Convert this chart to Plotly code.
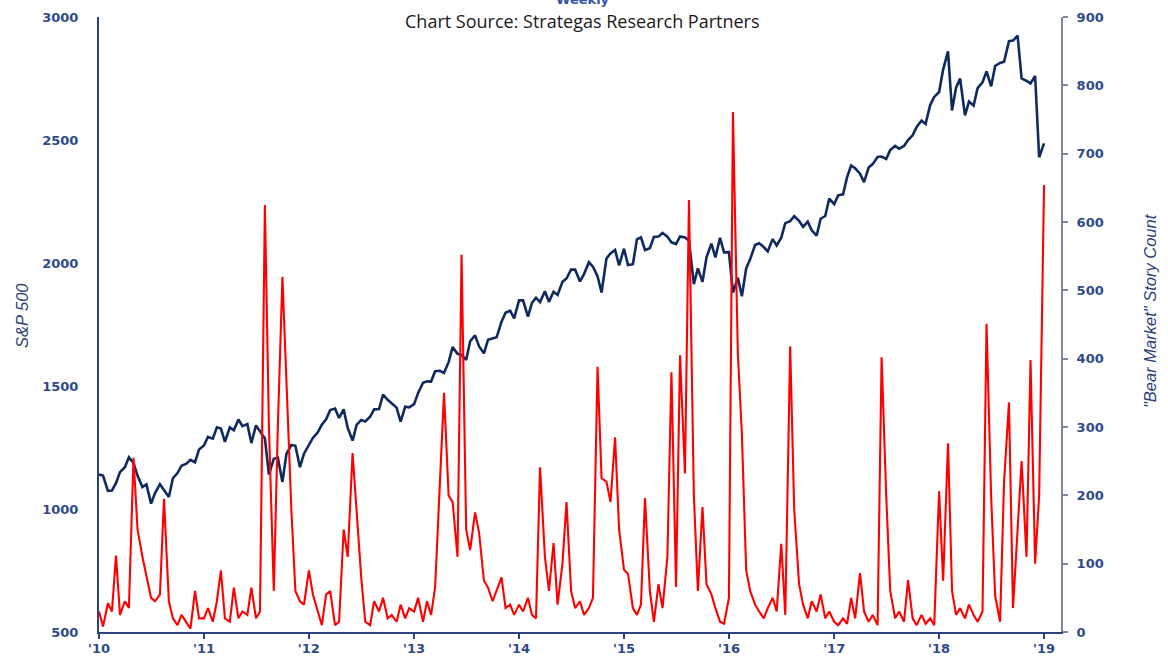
import pandas as pd
import plotly.graph_objects as go

# Semi-monthly observation dates (1st and 15th), Jan 2010 - Jan 2019
dates = pd.date_range("2010-01-01", "2019-01-01", freq="SMS")

sp500 = [
    # 2010
    1140, 1136, 1074, 1075, 1105, 1150, 1170, 1210, 1187, 1136, 1089, 1100,
    1022, 1065, 1101, 1079, 1049, 1125, 1146, 1176, 1184, 1200, 1190, 1242,
    # 2011
    1258, 1293, 1286, 1332, 1327, 1273, 1332, 1320, 1364, 1337, 1345, 1268,
    1340, 1316, 1287, 1140, 1204, 1209, 1110, 1224, 1260, 1257, 1170, 1225,
    # 2012
    1258, 1289, 1312, 1343, 1365, 1402, 1408, 1370, 1405, 1330, 1278, 1342,
    1362, 1356, 1375, 1405, 1406, 1465, 1444, 1428, 1412, 1355, 1416, 1413,
    # 2013
    1426, 1472, 1513, 1519, 1518, 1560, 1562, 1553, 1597, 1658, 1631, 1626,
    1606, 1682, 1706, 1661, 1633, 1688, 1695, 1698, 1761, 1798, 1806, 1775,
    # 2014
    1848, 1848, 1782, 1838, 1859, 1841, 1885, 1842, 1883, 1870, 1924, 1937,
    1973, 1973, 1925, 1955, 2003, 1985, 1946, 1880, 2018, 2039, 2053, 1990,
    # 2015
    2058, 1992, 1995, 2096, 2104, 2053, 2060, 2106, 2108, 2122, 2107, 2084,
    2077, 2108, 2104, 2091, 1914, 1978, 1923, 2023, 2079, 2023, 2102, 2043,
    # 2016
    2044, 1880, 1940, 1865, 1978, 2016, 2073, 2080, 2065, 2047, 2097, 2071,
    2103, 2162, 2170, 2190, 2171, 2147, 2168, 2133, 2111, 2180, 2191, 2262,
    # 2017
    2239, 2275, 2279, 2349, 2396, 2385, 2363, 2329, 2388, 2402, 2431, 2433,
    2423, 2459, 2476, 2465, 2476, 2500, 2519, 2553, 2579, 2565, 2642, 2675,
    # 2018
    2695, 2786, 2860, 2620, 2713, 2750, 2600, 2656, 2640, 2711, 2734, 2779,
    2718, 2801, 2813, 2818, 2902, 2904, 2924, 2750, 2740, 2730, 2760, 2430,
    # 2019
    2486,
]

bear_stories = [
    # 2010
    30, 8, 42, 30, 112, 25, 45, 35, 255, 150, 110, 80,
    50, 45, 55, 195, 45, 20, 10, 25, 15, 5, 60, 20,
    # 2011
    20, 35, 15, 45, 90, 20, 15, 65, 20, 30, 25, 65,
    20, 30, 625, 300, 60, 300, 520, 360, 180, 60, 45, 40,
    # 2012
    90, 55, 30, 10, 55, 60, 10, 15, 150, 110, 262, 180,
    80, 15, 10, 45, 30, 50, 20, 25, 15, 40, 20, 35,
    # 2013
    30, 50, 15, 45, 25, 65, 220, 350, 200, 190, 110, 552,
    150, 120, 175, 145, 75, 65, 45, 60, 80, 35, 40, 25,
    # 2014
    40, 30, 50, 25, 20, 241, 110, 60, 130, 40, 100, 190,
    60, 35, 45, 25, 35, 50, 388, 225, 220, 190, 285, 150,
    # 2015
    91, 85, 35, 25, 40, 196, 60, 15, 70, 35, 110, 380,
    66, 405, 232, 632, 200, 60, 183, 70, 55, 35, 15, 12,
    # 2016
    50, 761, 408, 290, 90, 60, 40, 30, 20, 35, 50, 30,
    129, 25, 418, 180, 70, 40, 20, 45, 30, 55, 20, 30,
    # 2017
    15, 10, 20, 12, 50, 20, 86, 30, 15, 25, 10, 402,
    200, 60, 20, 30, 15, 76, 20, 10, 25, 12, 20, 10,
    # 2018
    206, 75, 276, 60, 25, 35, 20, 40, 25, 15, 30, 451,
    198, 53, 15, 220, 336, 35, 150, 250, 110, 398, 100, 200,
    # 2019
    654,
]

year_ticks = ["2010-01-01", "2011-01-01", "2012-01-01", "2013-01-01", "2014-01-01",
              "2015-01-01", "2016-01-01", "2017-01-01", "2018-01-01", "2019-01-01"]
year_labels = ["'10", "'11", "'12", "'13", "'14", "'15", "'16", "'17", "'18", "'19"]

left_ticks = [500, 1000, 1500, 2000, 2500, 3000]
right_ticks = [0, 100, 200, 300, 400, 500, 600, 700, 800, 900]

NAVY = "#0f2a5e"
AXIS = "#2b437a"
LABEL = "#2e4a8a"
TICKFONT = dict(family="DejaVu Sans", size=13, color=LABEL, weight="bold")
TITLEFONT = dict(family="Liberation Sans", size=16.5, color="#2b3f75")

fig = go.Figure()
fig.add_trace(go.Scatter(x=dates, y=sp500, mode="lines", name="S&P 500",
                         line=dict(color=NAVY, width=2.6), yaxis="y"))
fig.add_trace(go.Scatter(x=dates, y=bear_stories, mode="lines", name="Bear Market Story Count",
                         line=dict(color="#ff0000", width=2.1), yaxis="y2"))

fig.update_layout(
    width=1168, height=656,
    margin=dict(l=99, r=107, t=17, b=24, autoexpand=False),
    paper_bgcolor="white", plot_bgcolor="white",
    showlegend=False,
    xaxis=dict(type="date", range=["2010-01-01", "2019-03-01"], automargin=False,
               tickvals=year_ticks, ticktext=year_labels,
               showgrid=False, zeroline=False,
               showline=True, linecolor=AXIS, linewidth=2,
               ticks="outside", ticklen=5, tickwidth=1.5, tickcolor=AXIS,
               tickfont=TICKFONT, ticklabelstandoff=-2),
    yaxis=dict(range=[500, 3000], tickvals=left_ticks, automargin=False,
               showgrid=False, zeroline=False,
               showline=True, linecolor=AXIS, linewidth=2,
               ticks="", tickfont=TICKFONT, ticklabelstandoff=16),
    yaxis2=dict(range=[0, 900], tickvals=right_ticks, overlaying="y", side="right",
                automargin=False, showgrid=False, zeroline=False,
                showline=True, linecolor="#7d879f", linewidth=2,
                ticks="outside", ticklen=5, tickwidth=1.5, tickcolor="#7d879f",
                tickfont=TICKFONT, ticklabelstandoff=6),
)

# Chart title / source line
fig.add_annotation(text="Chart Source: Strategas Research Partners", xref="paper", yref="paper",
                   x=0.503, y=1, yshift=-4, xanchor="center", yanchor="middle", showarrow=False,
                   font=dict(family="Open Sans", size=18, color="#1a1a1a"))
# Partially visible subtitle at the very top
fig.add_annotation(text="<b>Weekly</b>", xref="paper", yref="paper", x=0.503, y=1,
                   xanchor="center", yanchor="bottom", yshift=8, showarrow=False,
                   font=dict(family="DejaVu Sans", size=13, color="#3553a8"))
# Axis titles
fig.add_annotation(text="<i>S&amp;P 500</i>", xref="paper", yref="paper",
                   x=(22 - 99) / 962, y=(632 - 316) / 615, textangle=-90,
                   xanchor="center", yanchor="middle", showarrow=False, font=TITLEFONT)
fig.add_annotation(text="<i>\"Bear Market\" Story Count</i>", xref="paper", yref="paper",
                   x=(1150 - 99) / 962, y=(632 - 311) / 615, textangle=-90,
                   xanchor="center", yanchor="middle", showarrow=False, font=TITLEFONT)

fig.write_html("out.html", config={"displayModeBar": False},
               post_script="document.body.style.margin='0';")
